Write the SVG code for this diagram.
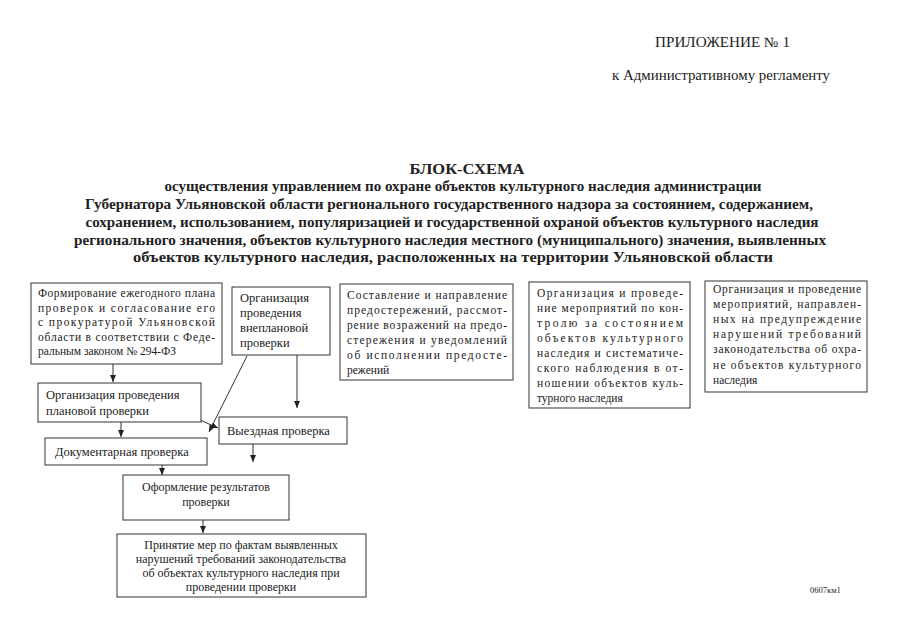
<svg xmlns="http://www.w3.org/2000/svg" width="905" height="640" viewBox="0 0 905 640">
<style>
.t{font-family:'Liberation Serif','DejaVu Serif',serif;fill:#222}
.h{font-size:14px}
.ti{font-size:14.5px;font-weight:bold;text-anchor:middle}
.b{font-size:11.5px}
.bx{fill:#fff;stroke:#333;stroke-width:1}
.c{fill:none;stroke:#333;stroke-width:1}
.m{font-size:12px;text-anchor:middle}
</style>
<defs>
<marker id="ar" markerWidth="8" markerHeight="8" refX="7" refY="4" orient="auto" markerUnits="userSpaceOnUse">
<path d="M0,1 L7,4 L0,7 Z" fill="#222"/>
</marker>
</defs>
<rect width="905" height="640" fill="#fff"/>
<g id="header">
<text class="t h" x="655" y="47" textLength="135" lengthAdjust="spacingAndGlyphs">ПРИЛОЖЕНИЕ № 1</text>
<text class="t h" x="612" y="80" textLength="218" lengthAdjust="spacingAndGlyphs">к Административному регламенту</text>
</g>
<g id="title">
<text class="t ti" x="467" y="174" textLength="115" lengthAdjust="spacingAndGlyphs">БЛОК-СХЕМА</text>
<text class="t ti" x="463" y="191" textLength="597" lengthAdjust="spacingAndGlyphs">осуществления управлением по охране объектов культурного наследия администрации</text>
<text class="t ti" x="449" y="209" textLength="728" lengthAdjust="spacingAndGlyphs">Губернатора Ульяновской области регионального государственного надзора за состоянием, содержанием,</text>
<text class="t ti" x="452" y="227" textLength="733" lengthAdjust="spacingAndGlyphs">сохранением, использованием, популяризацией и государственной охраной объектов культурного наследия</text>
<text class="t ti" x="450" y="245" textLength="752" lengthAdjust="spacingAndGlyphs">регионального значения, объектов культурного наследия местного (муниципального) значения, выявленных</text>
<text class="t ti" x="453" y="262" textLength="640" lengthAdjust="spacingAndGlyphs">объектов культурного наследия, расположенных на территории Ульяновской области</text>
</g>
<g id="connectors">
<line class="c" x1="113" y1="364" x2="113" y2="382" marker-end="url(#ar)"/>
<line class="c" x1="121" y1="422" x2="121" y2="437" marker-end="url(#ar)"/>
<line class="c" x1="247" y1="356" x2="209" y2="432" marker-end="url(#ar)"/>
<line class="c" x1="297" y1="355" x2="297" y2="408" marker-end="url(#ar)"/>
<line class="c" x1="200" y1="420" x2="218" y2="428" marker-end="url(#ar)"/>
<line class="c" x1="253" y1="444" x2="253" y2="462" marker-end="url(#ar)"/>
<line class="c" x1="162" y1="464" x2="162" y2="475" marker-end="url(#ar)"/>
<line class="c" x1="203" y1="520" x2="203" y2="533" marker-end="url(#ar)"/>
</g>
<g id="n1">
<rect class="bx" x="31" y="283" width="191" height="81"/>
<text class="t b" x="38" y="297" textLength="177" lengthAdjust="spacing">Формирование ежегодного плана</text>
<text class="t b" x="38" y="312" textLength="177" lengthAdjust="spacing">проверок и согласование его</text>
<text class="t b" x="38" y="326" textLength="177" lengthAdjust="spacing">с прокуратурой Ульяновской</text>
<text class="t b" x="38" y="341" textLength="177" lengthAdjust="spacing">области в соответствии с Феде-</text>
<text class="t b" x="38" y="355">ральным законом № 294-ФЗ</text>
</g>
<g id="n2">
<rect class="bx" x="232" y="287" width="98" height="68"/>
<text class="t" font-size="12.5" x="240" y="302">Организация</text>
<text class="t" font-size="12.5" x="240" y="317">проведения</text>
<text class="t" font-size="12.5" x="240" y="332">внеплановой</text>
<text class="t" font-size="12.5" x="240" y="347">проверки</text>
</g>
<g id="n3">
<rect class="bx" x="340" y="284" width="173" height="96"/>
<text class="t b" x="347" y="299" textLength="160" lengthAdjust="spacing">Составление и направление</text>
<text class="t b" x="347" y="314" textLength="160" lengthAdjust="spacing">предостережений, рассмот-</text>
<text class="t b" x="347" y="329" textLength="160" lengthAdjust="spacing">рение возражений на предо-</text>
<text class="t b" x="347" y="344" textLength="160" lengthAdjust="spacing">стережения и уведомлений</text>
<text class="t b" x="347" y="359" textLength="160" lengthAdjust="spacing">об исполнении предосте-</text>
<text class="t b" x="347" y="374">режений</text>
</g>
<g id="n4">
<rect class="bx" x="529" y="282" width="161" height="126"/>
<text class="t b" x="537" y="297" textLength="146" lengthAdjust="spacing">Организация и проведе-</text>
<text class="t b" x="537" y="312" textLength="146" lengthAdjust="spacing">ние мероприятий по кон-</text>
<text class="t b" x="537" y="327" textLength="146" lengthAdjust="spacing">тролю за состоянием</text>
<text class="t b" x="537" y="342" textLength="146" lengthAdjust="spacing">объектов культурного</text>
<text class="t b" x="537" y="357" textLength="146" lengthAdjust="spacing">наследия и систематиче-</text>
<text class="t b" x="537" y="372" textLength="146" lengthAdjust="spacing">ского наблюдения в от-</text>
<text class="t b" x="537" y="387" textLength="146" lengthAdjust="spacing">ношении объектов куль-</text>
<text class="t b" x="537" y="402">турного наследия</text>
</g>
<g id="n5">
<rect class="bx" x="705" y="281" width="162" height="111"/>
<text class="t b" x="713" y="293" textLength="148" lengthAdjust="spacing">Организация и проведение</text>
<text class="t b" x="713" y="308" textLength="148" lengthAdjust="spacing">мероприятий, направлен-</text>
<text class="t b" x="713" y="323" textLength="148" lengthAdjust="spacing">ных на предупреждение</text>
<text class="t b" x="713" y="338" textLength="148" lengthAdjust="spacing">нарушений требований</text>
<text class="t b" x="713" y="353" textLength="148" lengthAdjust="spacing">законодательства об охра-</text>
<text class="t b" x="713" y="369" textLength="148" lengthAdjust="spacing">не объектов культурного</text>
<text class="t b" x="713" y="384">наследия</text>
</g>
<g id="n6">
<rect class="bx" x="38" y="383" width="163" height="39"/>
<text class="t" font-size="12.5" x="46" y="399">Организация проведения</text>
<text class="t" font-size="12.5" x="46" y="415">плановой проверки</text>
</g>
<g id="n7">
<rect class="bx" x="45" y="438" width="162" height="27"/>
<text class="t" font-size="12.5" x="55" y="456">Документарная проверка</text>
</g>
<g id="n8">
<rect class="bx" x="219" y="417" width="128" height="27"/>
<text class="t" font-size="12.5" x="227" y="435">Выездная проверка</text>
</g>
<g id="n9">
<rect class="bx" x="123" y="475" width="166" height="45"/>
<text class="t m" x="206" y="491">Оформление результатов</text>
<text class="t m" x="206" y="506">проверки</text>
</g>
<g id="n10">
<rect class="bx" x="117" y="534" width="249" height="63"/>
<text class="t m" x="241" y="549">Принятие мер по фактам выявленных</text>
<text class="t m" x="241" y="563">нарушений требований законодательства</text>
<text class="t m" x="241" y="577">об объектах культурного наследия при</text>
<text class="t m" x="241" y="591">проведении проверки</text>
</g>
<g id="footer">
<text class="t" font-size="8.5" x="810" y="593">0607км1</text>
</g>
</svg>
